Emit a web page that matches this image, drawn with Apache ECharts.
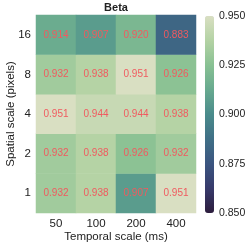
<!DOCTYPE html>
<html><head><meta charset="utf-8">
<script src="https://cdn.jsdelivr.net/npm/echarts@6/dist/echarts.min.js"></script>
<style>html,body{margin:0;padding:0;background:#fff}#c{width:249px;height:248px}</style>
</head><body><div id="c"></div>
<script>
const temporal = ['50','100','200','400'];
const spatial = ['1','2','4','8','16'];
const row1  = [0.932,0.938,0.907,0.951];
const row2  = [0.932,0.938,0.926,0.932];
const row4  = [0.951,0.944,0.944,0.938];
const row8  = [0.932,0.938,0.951,0.926];
const row16 = [0.914,0.907,0.920,0.883];
const rows = [row1,row2,row4,row8,row16];
const vmin = 0.85, vmax = 0.95;

const data = [];
rows.forEach((r,yi)=>r.forEach((v,xi)=>data.push([xi,yi,v])));

const font = 'Liberation Sans, Arial, sans-serif';
const chart = echarts.init(document.getElementById('c'));
chart.setOption({
  animation:false,
  title:{text:'Beta',left:116,top:2,padding:0,textAlign:'center',textStyle:{fontFamily:font,fontSize:11,fontWeight:'bold',color:'#222'}},
  grid:[
    {left:36,top:15,width:160,height:198,outerBoundsMode:'none',containLabel:false},
    {left:205,top:16,width:9,height:197,outerBoundsMode:'none',containLabel:false}
  ],
  xAxis:[
    {type:'category',data:temporal,gridIndex:0,axisLine:{show:false},axisTick:{show:false},
     axisLabel:{fontFamily:font,fontSize:11.5,color:'#222',margin:5},
     name:'Temporal scale (ms)',nameLocation:'middle',nameGap:18,nameMoveOverlap:false,
     nameTextStyle:{fontFamily:font,fontSize:11.5,color:'#222'}},
    {type:'value',gridIndex:1,show:false}
  ],
  yAxis:[
    {type:'category',data:spatial,gridIndex:0,axisLine:{show:false},axisTick:{show:false},
     axisLabel:{fontFamily:font,fontSize:11.5,color:'#222',margin:5},
     name:'Spatial scale (pixels)',nameLocation:'middle',nameGap:19,nameMoveOverlap:false,
     nameTextStyle:{fontFamily:font,fontSize:11.5,color:'#222'}},
    {type:'value',gridIndex:1,position:'right',min:vmin,max:vmax,interval:0.025,
     axisLine:{show:false},axisTick:{show:false},splitLine:{show:false},
     axisLabel:{fontFamily:font,fontSize:10.5,color:'#222',margin:5,formatter:v=>v.toFixed(3)}}
  ],
  visualMap:{type:'continuous',min:vmin,max:vmax,calculable:false,show:true,
    left:205,top:16,itemWidth:9,itemHeight:197,padding:0,text:null,showLabel:false,
    seriesIndex:0,
    inRange:{color:['#2c1d3d','#373a6b','#3b5580','#406f86','#4a8b8b','#67a98f','#88c193','#b4d2a4','#d9dfc2']}},
  series:[{type:'heatmap',xAxisIndex:0,yAxisIndex:0,data:data,
    label:{show:true,fontFamily:font,fontSize:10,color:'#f05a5f',formatter:p=>p.value[2].toFixed(3)},
    itemStyle:{borderWidth:0}}]
});
</script></body></html>
